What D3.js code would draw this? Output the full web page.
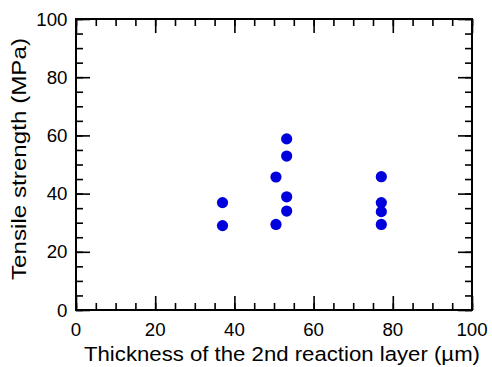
<!DOCTYPE html>
<html><head><meta charset="utf-8">
<script src="https://cdn.jsdelivr.net/npm/d3@7"></script>
<style>body{margin:0;background:#fff}svg{display:block}text{font-family:"Liberation Sans",Arial,Helvetica,sans-serif}</style>
</head><body><svg id="c" width="492" height="367"></svg>
<script>
const thickness = [37, 37, 50.5, 50.5, 53.2, 53.2, 53.2, 53.2, 77.1, 77.1, 77.1, 77.1];
const strength  = [36.9, 29.0, 45.7, 29.4, 58.8, 52.9, 38.9, 34.0, 45.8, 36.9, 33.8, 29.4];
const xTicks = [0, 20, 40, 60, 80, 100];
const yTicks = [0, 20, 40, 60, 80, 100];
const xTitle = "Thickness of the 2nd reaction layer (\u00b5m)";
const yTitle = "Tensile strength (MPa)";

const svg = d3.select("#c");
const L = 76, R = 472, T = 19, B = 310;
const x = d3.scaleLinear().domain([0, 100]).range([L, R]);
const y = d3.scaleLinear().domain([0, 100]).range([B, T]);
const minor = d3.range(0, 101, 5);

function ax(axisFn, scale, tf, vals, size) {
  const g = svg.append("g").attr("transform", tf)
    .call(axisFn(scale).tickValues(vals).tickSizeInner(size).tickSizeOuter(0).tickFormat(() => ""));
  g.select(".domain").remove();
  g.selectAll("line").attr("stroke", "#000").attr("stroke-width", 1.6);
  return g;
}
ax(d3.axisBottom, x, `translate(0,${B})`, minor, -7);
ax(d3.axisBottom, x, `translate(0,${B})`, xTicks, -14);
ax(d3.axisTop, x, `translate(0,${T})`, minor, -7);
ax(d3.axisTop, x, `translate(0,${T})`, xTicks, -14);
ax(d3.axisLeft, y, `translate(${L},0)`, minor, -7);
ax(d3.axisLeft, y, `translate(${L},0)`, yTicks, -14);
ax(d3.axisRight, y, `translate(${R},0)`, minor, -7);
ax(d3.axisRight, y, `translate(${R},0)`, yTicks, -14);

svg.append("rect").attr("x", L).attr("y", T).attr("width", R - L).attr("height", B - T)
  .attr("fill", "none").attr("stroke", "#000").attr("stroke-width", 2);

svg.append("g").selectAll("text").data(xTicks).join("text")
  .attr("x", d => x(d)).attr("y", 336).attr("text-anchor", "middle")
  .attr("font-size", 18.7).text(d => d);
svg.append("g").selectAll("text").data(yTicks).join("text")
  .attr("x", 67.5).attr("y", d => y(d) + 6.6).attr("text-anchor", "end")
  .attr("font-size", 18.7).text(d => d);

svg.append("text").attr("x", 282).attr("y", 361).attr("text-anchor", "middle")
  .attr("font-size", 20.5).attr("textLength", 396).attr("lengthAdjust", "spacingAndGlyphs")
  .text(xTitle);
svg.append("text").attr("transform", `translate(26,159) rotate(-90)`)
  .attr("text-anchor", "middle").attr("font-size", 20.5)
  .attr("textLength", 242).attr("lengthAdjust", "spacingAndGlyphs").text(yTitle);

svg.append("g").selectAll("circle").data(thickness.map((t, i) => [t, strength[i]])).join("circle")
  .attr("cx", d => x(d[0])).attr("cy", d => y(d[1])).attr("r", 5.6).attr("fill", "#0000dd");
</script></body></html>
